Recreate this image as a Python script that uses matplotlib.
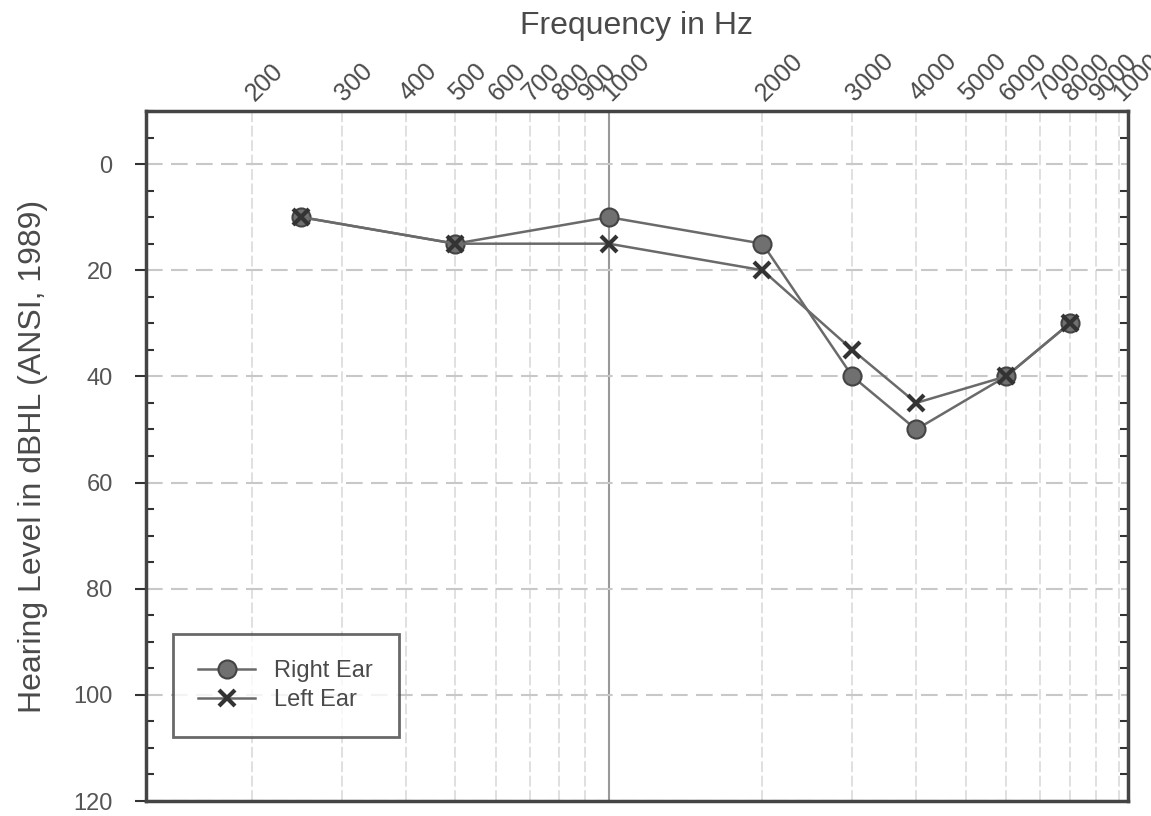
import matplotlib.pyplot as plt
import matplotlib.transforms as mtransforms
from matplotlib.ticker import FixedLocator, NullFormatter, MultipleLocator

plt.rcParams['font.family'] = ['Liberation Sans', 'DejaVu Sans']

# audiogram data
freq = [250, 500, 1000, 2000, 3000, 4000, 6000, 8000]
right_ear = [10, 15, 10, 15, 40, 50, 40, 30]
left_ear = [10, 15, 15, 20, 35, 45, 40, 30]

freq_ticks = [200, 300, 400, 500, 600, 700, 800, 900,
              1000, 2000, 3000, 4000, 5000, 6000, 7000, 8000, 9000, 10000]

fig = plt.figure(figsize=(11.51, 8.16), dpi=100)
ax = fig.add_axes([146 / 1151, 1 - 801 / 816, (1128 - 146) / 1151, (801 - 111) / 816])

ax.plot(freq, right_ear, color='#6a6a6a', lw=1.8, marker='o', ms=13,
        mfc='#707070', mec='#444444', mew=1.5, label='Right Ear', zorder=3)
ax.plot(freq, left_ear, color='#6a6a6a', lw=1.8, marker='x', ms=11,
        mec='#333333', mew=3, label='Left Ear', zorder=4)

ax.set_xscale('log')
ax.set_xlim(124, 10400)
ax.set_ylim(120, -10)

# frequency axis on top
ax.xaxis.tick_top()
ax.xaxis.set_label_position('top')
ax.xaxis.set_major_locator(FixedLocator(freq_ticks))
ax.xaxis.set_minor_formatter(NullFormatter())
ax.xaxis.set_minor_locator(FixedLocator([]))
ax.set_xticklabels([str(f) for f in freq_ticks], rotation=45, ha='left',
                   va='bottom', rotation_mode='anchor', fontsize=18, color='#4a4a4a')
ax.tick_params(axis='x', which='major', length=0, pad=4)
shift = mtransforms.ScaledTranslation(6 / 100, 0, fig.dpi_scale_trans)
for lbl in ax.get_xticklabels():
    lbl.set_transform(lbl.get_transform() + shift)
ax.set_xlabel('Frequency in Hz', fontsize=23, color='#4a4a4a', labelpad=4)

ax.yaxis.set_major_locator(MultipleLocator(20))
ax.yaxis.set_minor_locator(MultipleLocator(5))
ax.tick_params(axis='y', which='major', direction='out', length=8, width=1.5,
               labelsize=17, labelcolor='#555555', color='#333333', pad=16)
ax.tick_params(axis='y', which='minor', direction='in', length=6, width=1.5,
               color='#333333', right=True)
ax.set_ylabel('Hearing Level in dBHL (ANSI, 1989)', fontsize=23, color='#4a4a4a', labelpad=18)

for f in freq_ticks:
    if f == 1000:
        ax.axvline(f, color='#999999', lw=1.5, zorder=1)
    else:
        ax.axvline(f, color='#dddddd', lw=1.3, ls=(0, (6, 2)), zorder=1)
for v in range(0, 121, 20):
    ax.axhline(v, color='#c8c8c8', lw=1.5, ls=(0, (8, 4)), zorder=1)

for s in ax.spines.values():
    s.set_color('#444444')
    s.set_linewidth(2.5)

leg = ax.legend(loc='lower left', bbox_to_anchor=(0.027, 0.093), fontsize=17,
                frameon=True, fancybox=False, handlelength=2.4, borderpad=1.1,
                labelspacing=0.3, borderaxespad=0)
leg.get_frame().set_edgecolor('#444444')
leg.get_frame().set_linewidth(2)
for t in leg.get_texts():
    t.set_color('#4a4a4a')

fig.savefig('out.png', dpi=100)
